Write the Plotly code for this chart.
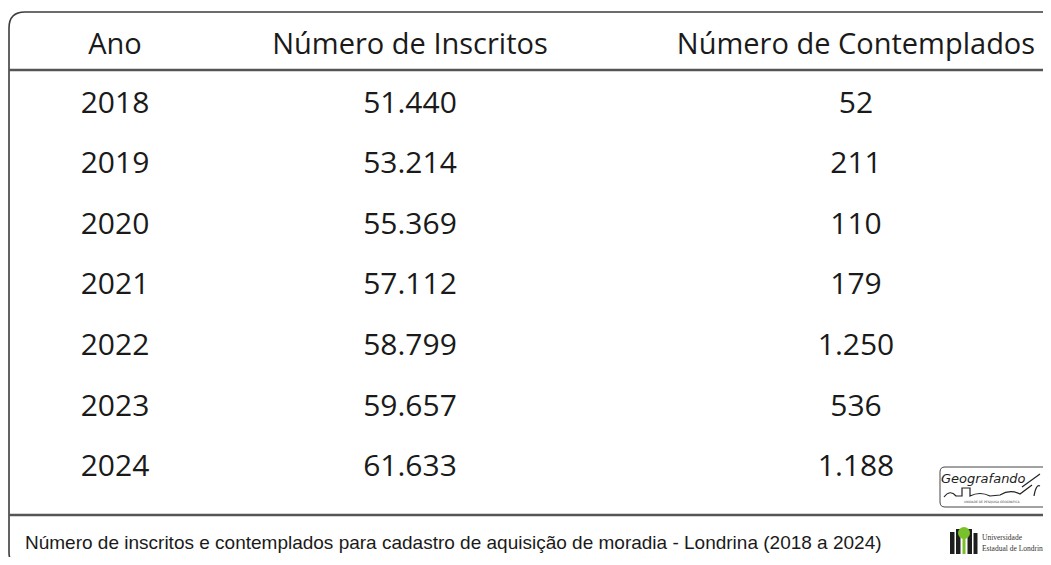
import plotly.graph_objects as go

# ---- data ----
headers = ["Ano", "Número de Inscritos", "Número de Contemplados"]
anos = ["2018", "2019", "2020", "2021", "2022", "2023", "2024"]
inscritos = [51440, 53214, 55369, 57112, 58799, 59657, 61633]
contemplados = [52, 211, 110, 179, 1250, 536, 1188]
caption = "Número de inscritos e contemplados para cadastro de aquisição de moradia - Londrina (2018 a 2024)"

W, H = 1043, 549
OFF = 8  # page body margin
col_x = [115, 410, 856]


def br(n):
    return f"{n:,}".replace(",", ".")


def py(p):  # page pixel y -> paper y
    return 1 - (p - OFF) / H


def px(p):  # page pixel x -> paper x
    return (p - OFF) / W


fig = go.Figure()
FONT = "Open Sans"
TXT = "#1a1a1a"
FS = 30

fig.add_trace(go.Scatter(x=col_x, y=[0.03] * 3, mode="text", text=headers,
                         textfont=dict(family=FONT, size=29, color=TXT),
                         hoverinfo="skip", showlegend=False))
rows = list(range(1, len(anos) + 1))
fig.add_trace(go.Scatter(x=[col_x[0]] * len(anos), y=rows, mode="text", text=anos,
                         textfont=dict(family=FONT, size=FS, color=TXT),
                         hoverinfo="skip", showlegend=False))
fig.add_trace(go.Scatter(x=[col_x[1]] * len(anos), y=rows, mode="text",
                         text=[br(v) for v in inscritos],
                         textfont=dict(family=FONT, size=FS, color=TXT),
                         hoverinfo="skip", showlegend=False))
fig.add_trace(go.Scatter(x=[col_x[2]] * len(anos), y=rows, mode="text",
                         text=[br(v) for v in contemplados],
                         textfont=dict(family=FONT, size=FS, color=TXT),
                         hoverinfo="skip", showlegend=False))

# row index i sits at page pixel y0 + dy*i
y0, dy = 44.5, 60.6
yr = [(H + OFF - y0) / dy, (OFF - y0) / dy]
xr = [OFF, W + OFF]

LC = "#3d3d3d"
shapes = []
r = 16
path = (f"M {px(1070)} {py(12)} L {px(9 + r)} {py(12)} "
        f"Q {px(9)} {py(12)} {px(9)} {py(12 + r)} "
        f"L {px(9)} {py(552)} Q {px(9)} {py(566)} {px(22)} {py(566)}")
shapes.append(dict(type="path", xref="paper", yref="paper", path=path,
                   line=dict(color=LC, width=1.6)))
shapes.append(dict(type="line", xref="paper", yref="paper", x0=px(9), x1=px(1070),
                   y0=py(70), y1=py(70), line=dict(color="#555555", width=2.5)))
shapes.append(dict(type="line", xref="paper", yref="paper", x0=px(9), x1=px(1070),
                   y0=py(515), y1=py(515), line=dict(color="#555555", width=2.5)))

# Geografando logo box
gx0, gx1, gy0, gy1 = 940, 1060, 467, 507
gr = 5
gpath = (f"M {px(gx0 + gr)} {py(gy0)} L {px(gx1)} {py(gy0)} L {px(gx1)} {py(gy1)} "
         f"L {px(gx0 + gr)} {py(gy1)} Q {px(gx0)} {py(gy1)} {px(gx0)} {py(gy1 - gr)} "
         f"L {px(gx0)} {py(gy0 + gr)} Q {px(gx0)} {py(gy0)} {px(gx0 + gr)} {py(gy0)} Z")
shapes.append(dict(type="path", xref="paper", yref="paper", path=gpath,
                   line=dict(color="#444444", width=1)))
wpath = (f"M {px(944)} {py(497)} Q {px(950)} {py(489)} {px(956)} {py(496)} "
         f"L {px(962)} {py(496)} L {px(962)} {py(488)} L {px(970)} {py(488)} L {px(970)} {py(496)} "
         f"Q {px(980)} {py(491)} {px(990)} {py(496)} L {px(1000)} {py(495)} "
         f"Q {px(1010)} {py(489)} {px(1020)} {py(494)} L {px(1032)} {py(485)} "
         f"M {px(1022)} {py(487)} L {px(1040)} {py(474)} "
         f"M {px(1034)} {py(496)} Q {px(1036)} {py(484)} {px(1040)} {py(486)}")
shapes.append(dict(type="path", xref="paper", yref="paper", path=wpath,
                   line=dict(color="#222222", width=1.2)))

# UEL logo
green = "#79c12a"
dark = "#1e1e1e"
for (a, b, top) in [(950, 954.5, 532), (956, 960.5, 529), (967.5, 972, 529), (973.5, 977.5, 533)]:
    shapes.append(dict(type="rect", xref="paper", yref="paper", x0=px(a), x1=px(b),
                       y0=py(554), y1=py(top), fillcolor=dark, line=dict(width=0)))
shapes.append(dict(type="rect", xref="paper", yref="paper", x0=px(962.5), x1=px(965.5),
                   y0=py(554), y1=py(534), fillcolor=green, line=dict(width=0)))
shapes.append(dict(type="circle", xref="paper", yref="paper", x0=px(958), x1=px(970),
                   y0=py(539), y1=py(527), fillcolor=green, line=dict(width=0)))

annotations = [
    dict(text=caption, xref="paper", yref="paper", x=px(23), y=py(542),
         xanchor="left", yanchor="middle", showarrow=False,
         font=dict(family="Liberation Sans", size=19, color=TXT)),
    dict(text="<i>Geografando</i>", xref="paper", yref="paper", x=px(983), y=py(478),
         xanchor="center", yanchor="middle", showarrow=False,
         font=dict(family="DejaVu Sans", size=13, color="#222222")),
    dict(text="UNIDADE DE PESQUISA GEOGRÁFICA", xref="paper", yref="paper", x=px(992), y=py(502),
         xanchor="center", yanchor="middle", showarrow=False,
         font=dict(family="DejaVu Sans", size=3, color="#444444")),
    dict(text="Universidade", xref="paper", yref="paper", x=px(980), y=py(537),
         xanchor="left", yanchor="middle", showarrow=False,
         font=dict(family="Liberation Serif", size=7.5, color="#333333")),
    dict(text="Estadual de Londrina", xref="paper", yref="paper", x=px(980), y=py(548),
         xanchor="left", yanchor="middle", showarrow=False,
         font=dict(family="Liberation Serif", size=7.5, color="#333333")),
]

fig.update_layout(
    width=W, height=H,
    margin=dict(l=0, r=0, t=0, b=0),
    paper_bgcolor="white", plot_bgcolor="white",
    xaxis=dict(range=xr, visible=False, fixedrange=True),
    yaxis=dict(range=yr, visible=False, fixedrange=True),
    shapes=shapes, annotations=annotations,
    showlegend=False,
)

fig.write_html("out.html", config=dict(displayModeBar=False))
